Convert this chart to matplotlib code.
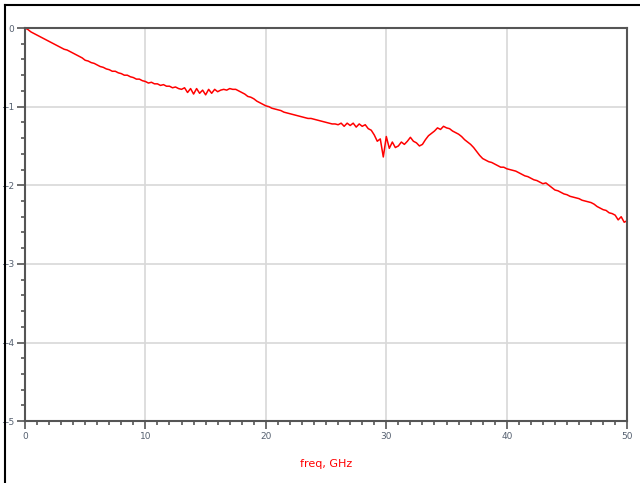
import matplotlib
matplotlib.use('Agg')
import matplotlib.pyplot as plt
from matplotlib.lines import Line2D
from matplotlib.ticker import MultipleLocator
import numpy as np

# frequency grid, GHz (0.25 GHz steps)
freq = np.arange(0, 50.01, 0.25)

# measured insertion loss, dB
loss_db = [
    0.00, -0.02, -0.05, -0.07,
    -0.09, -0.11, -0.13, -0.15,
    -0.17, -0.19, -0.21, -0.23,
    -0.25, -0.27, -0.28, -0.30,
    -0.32, -0.34, -0.36, -0.38,
    -0.41, -0.42, -0.44, -0.45,
    -0.47, -0.49, -0.50, -0.52,
    -0.53, -0.55, -0.55, -0.57,
    -0.58, -0.60, -0.60, -0.62,
    -0.63, -0.65, -0.65, -0.67,
    -0.68, -0.70, -0.69, -0.71,
    -0.71, -0.73, -0.72, -0.74,
    -0.74, -0.76, -0.75, -0.77,
    -0.78, -0.76, -0.82, -0.77,
    -0.84, -0.77, -0.83, -0.79,
    -0.85, -0.78, -0.83, -0.78,
    -0.81, -0.79, -0.78, -0.79,
    -0.77, -0.78, -0.78, -0.80,
    -0.82, -0.84, -0.87, -0.88,
    -0.90, -0.93, -0.95, -0.97,
    -0.99, -1.00, -1.02, -1.03,
    -1.04, -1.05, -1.07, -1.08,
    -1.09, -1.10, -1.11, -1.12,
    -1.13, -1.14, -1.15, -1.15,
    -1.16, -1.17, -1.18, -1.19,
    -1.20, -1.21, -1.22, -1.22,
    -1.23, -1.21, -1.25, -1.21,
    -1.24, -1.21, -1.26, -1.22,
    -1.25, -1.23, -1.28, -1.30,
    -1.36, -1.44, -1.41, -1.64,
    -1.38, -1.53, -1.45, -1.52,
    -1.50, -1.45, -1.48, -1.44,
    -1.39, -1.44, -1.46, -1.50,
    -1.48, -1.42, -1.37, -1.34,
    -1.31, -1.27, -1.29, -1.25,
    -1.27, -1.28, -1.31, -1.33,
    -1.35, -1.38, -1.42, -1.45,
    -1.48, -1.52, -1.57, -1.62,
    -1.66, -1.68, -1.70, -1.71,
    -1.73, -1.75, -1.77, -1.77,
    -1.79, -1.80, -1.81, -1.82,
    -1.84, -1.86, -1.88, -1.89,
    -1.91, -1.93, -1.94, -1.96,
    -1.98, -1.97, -2.00, -2.03,
    -2.06, -2.07, -2.09, -2.11,
    -2.12, -2.14, -2.15, -2.16,
    -2.17, -2.19, -2.20, -2.21,
    -2.22, -2.24, -2.27, -2.29,
    -2.31, -2.32, -2.35, -2.36,
    -2.38, -2.44, -2.40, -2.47,
    -2.45,
]

x_ticks = [0, 10, 20, 30, 40, 50]
y_ticks = [0, -1, -2, -3, -4, -5]

fig = plt.figure(figsize=(6.4, 4.83), dpi=100)
ax = fig.add_axes([0.039, 0.128, 0.941, 0.814])

ax.plot(freq, loss_db, color='red', lw=1.1)

ax.set_xlim(0, 50)
ax.set_ylim(-5, 0)
ax.set_xticks(x_ticks)
ax.set_yticks(y_ticks)
ax.xaxis.set_minor_locator(MultipleLocator(1))
ax.yaxis.set_minor_locator(MultipleLocator(0.2))
ax.grid(True, which='major', color='#d8d8d8', lw=1.2)
ax.set_axisbelow(True)

for side in ['left', 'bottom', 'right', 'top']:
    ax.spines[side].set_color('#555555')
    ax.spines[side].set_linewidth(1.5)

ax.tick_params(which='major', length=6, width=1.2, color='#555555',
               labelsize=6.5, labelcolor='#556070', pad=2)
ax.tick_params(which='minor', length=3, width=1.2, color='#555555')

ax.set_xlabel('freq, GHz', color='red', fontsize=8, labelpad=13)

# outer frame lines
fig.add_artist(Line2D([0.008, 1.0], [0.99, 0.99], color='black', lw=1.5,
                      transform=fig.transFigure))
fig.add_artist(Line2D([0.008, 0.008], [0.0, 0.99], color='black', lw=1.5,
                      transform=fig.transFigure))

fig.savefig('out.png', dpi=100)
